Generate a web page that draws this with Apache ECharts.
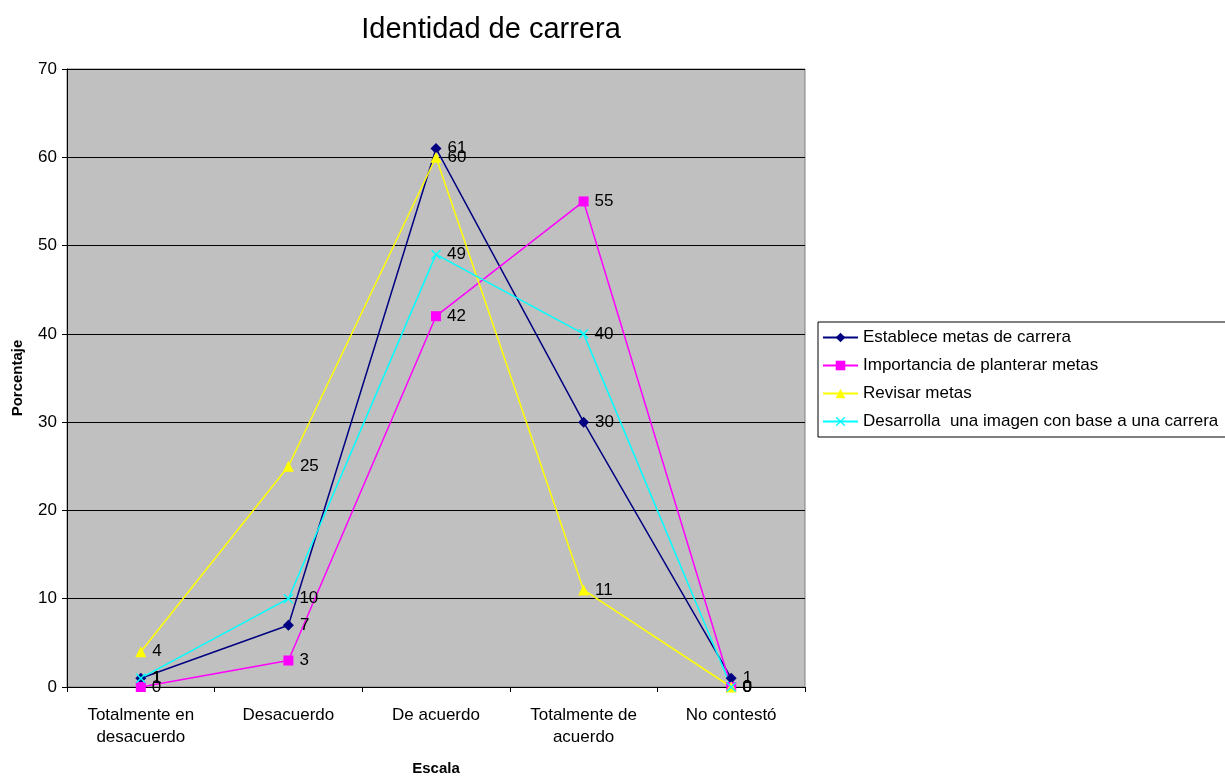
<!DOCTYPE html>
<html><head><meta charset="utf-8">
<script src="https://cdn.jsdelivr.net/npm/echarts@6/dist/echarts.min.js"></script>
<style>html,body{margin:0;padding:0;background:#fff}#c{width:1225px;height:779px}</style>
</head><body><div id="c"></div>
<script>
const categories = ['Totalmente en\ndesacuerdo', 'Desacuerdo', 'De acuerdo', 'Totalmente de\nacuerdo', 'No contestó'];
const establece = [1, 7, 61, 30, 1];
const importancia = [0, 3, 42, 55, 0];
const revisar = [4, 25, 60, 11, 0];
const desarrolla = [1, 10, 49, 40, 0];
const seriesNames = ['Establece metas de carrera', 'Importancia de planterar metas', 'Revisar metas', 'Desarrolla  una imagen con base a una carrera'];

const xPath = 'path://M0,1L1,0L5,4L9,0L10,1L6,5L10,9L9,10L5,6L1,10L0,9L4,5Z';
const font = 'Liberation Sans, Arial, sans-serif';
function mk(name, data, color, symbol, size) {
  return {
    name, type: 'line', data, symbol, symbolSize: size,
    lineStyle: { color, width: 1.5 },
    itemStyle: { color },
    label: { show: true, position: 'right', distance: 6, color: '#000', fontSize: 17, fontFamily: font },
    emphasis: { disabled: true }, animation: false
  };
}
const chart = echarts.init(document.getElementById('c'));
chart.setOption({
  animation: false,
  title: { text: 'Identidad de carrera', left: 486, top: 10, textAlign: 'center',
    textStyle: { fontSize: 29, fontWeight: 'normal', color: '#000', fontFamily: font } },
  grid: { left: 67, right: 420, top: 69, bottom: 92, containLabel: false, outerBoundsMode: 'none',
    show: true, backgroundColor: '#c0c0c0', borderColor: '#808080', borderWidth: 1 },
  legend: {
    orient: 'vertical', left: 818, top: 322, width: 440,
    borderColor: '#000', borderWidth: 1, padding: [6, 40, 6, 4],
    itemWidth: 35, itemHeight: 12, itemGap: 9,
    textStyle: { fontSize: 17, color: '#000', fontFamily: font, lineHeight: 19 },
    data: seriesNames
  },
  xAxis: {
    type: 'category', data: categories, boundaryGap: true,
    name: 'Escala', nameLocation: 'middle', nameGap: 74,
    nameTextStyle: { fontWeight: 'bold', fontSize: 15, color: '#000', fontFamily: font },
    axisLine: { lineStyle: { color: '#000', width: 1 } },
    axisTick: { show: true, alignWithLabel: false, length: 5, lineStyle: { color: '#000' } },
    axisLabel: { fontSize: 17, color: '#000', fontFamily: font, lineHeight: 22, margin: 17 }
  },
  yAxis: {
    type: 'value', min: 0, max: 70, interval: 10,
    name: 'Porcentaje', nameLocation: 'middle', nameGap: 42,
    nameTextStyle: { fontWeight: 'bold', fontSize: 15, color: '#000', fontFamily: font },
    axisLine: { show: true, lineStyle: { color: '#000', width: 1 } },
    axisTick: { show: true, length: 5, lineStyle: { color: '#000' } },
    axisLabel: { fontSize: 17, color: '#000', fontFamily: font, margin: 10 },
    splitLine: { show: true, lineStyle: { color: '#000', width: 1 } }
  },
  series: [
    mk(seriesNames[0], establece, '#000080', 'diamond', 11),
    mk(seriesNames[1], importancia, '#ff00ff', 'rect', 10),
    mk(seriesNames[2], revisar, '#ffff00', 'triangle', 11),
    mk(seriesNames[3], desarrolla, '#00ffff', xPath, 10)
  ]
});
</script></body></html>
